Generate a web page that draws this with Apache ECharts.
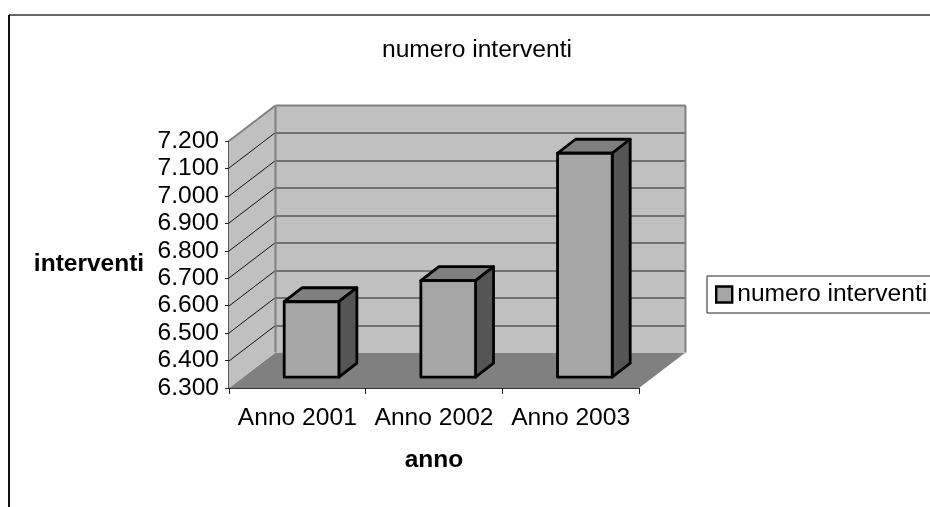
<!DOCTYPE html>
<html><head><meta charset="utf-8">
<style>html,body{margin:0;padding:0;background:#fff;overflow:hidden}#c{width:930px;height:507px}</style>
<script src="https://cdn.jsdelivr.net/npm/echarts@6/dist/echarts.min.js"></script>
</head><body><div id="c"></div>
<script>
var categories = ['Anno 2001', 'Anno 2002', 'Anno 2003'];
var interventi = [6575, 6652, 7116];
var yTicks = [6300, 6400, 6500, 6600, 6700, 6800, 6900, 7000, 7100, 7200];
var seriesName = 'numero interventi';
var FONT = '"Liberation Sans", Arial, sans-serif';
var DEPTH_X = 46.5, DEPTH_Y = 35.5;
var chart = echarts.init(document.getElementById('c'), null, {renderer: 'canvas'});

function poly(points, fill, stroke, lw) {
  return {type: 'polygon', shape: {points: points},
    style: {fill: fill, stroke: stroke || null, lineWidth: lw || 0, lineJoin: 'round'}};
}
function seg(x1, y1, x2, y2, color, lw) {
  return {type: 'line', shape: {x1: x1, y1: y1, x2: x2, y2: y2}, style: {stroke: color, lineWidth: lw}};
}
function renderWalls(params, api) {
  var cs = params.coordSys;
  var L = cs.x, R = cs.x + cs.width, T = cs.y, B = cs.y + cs.height;
  var dx = DEPTH_X, dy = DEPTH_Y, kids = [];
  kids.push(poly([[L, B], [R, B], [R + dx, B - dy], [L + dx, B - dy]], '#808080'));
  kids.push(poly([[L, T], [L + dx, T - dy], [L + dx, B - dy], [L, B]], '#c0c0c0'));
  kids.push(poly([[L + dx, T - dy], [R + dx, T - dy], [R + dx, B - dy], [L + dx, B - dy]], '#c0c0c0'));
  yTicks.slice(1, -1).forEach(function (v) {
    var y = Math.round(api.coord([0, v])[1]);
    kids.push(seg(L, y, L + dx, y - dy, '#111', 1));
    kids.push(seg(L + dx, y - dy + 0.5, R + dx, y - dy + 0.5, '#222', 1));
  });
  kids.push(seg(L, T, L + dx, T - dy, '#808080', 2));
  kids.push(seg(L + dx, T - dy, R + dx, T - dy, '#808080', 2));
  kids.push(seg(L + dx, T - dy, L + dx, B - dy, '#808080', 2));
  kids.push(seg(R + dx, T - dy, R + dx, B - dy, '#808080', 2));
  return {type: 'group', children: kids};
}
function renderBar(params, api) {
  var top = api.coord([api.value(0), api.value(1)]);
  var base = api.coord([api.value(0), yTicks[0]]);
  var band = api.size([1, 0])[0];
  var w = band * 0.4, ox = 14.2, oy = 10.8, dx = 18, dy = 14;
  var x0 = top[0] + ox - w / 2, x1 = x0 + w, yt = top[1] - oy, yb = base[1] - oy;
  var bw = 2.8;
  return {type: 'group', children: [
    poly([[x0, yt], [x1, yt], [x1 + dx, yt - dy], [x0 + dx, yt - dy]], '#7f7f7f', '#000', bw),
    poly([[x1, yt], [x1 + dx, yt - dy], [x1 + dx, yb - dy], [x1, yb]], '#555555', '#000', bw),
    poly([[x0, yt], [x1, yt], [x1, yb], [x0, yb]], '#a6a6a6', '#000', bw)
  ]};
}
chart.setOption({
  animation: false,
  backgroundColor: '#fff',
  title: {text: seriesName, left: 382, top: 38, padding: 0,
    textStyle: {fontFamily: FONT, fontSize: 24.6, fontWeight: 'normal', color: '#000'}},
  legend: {
    left: 707, top: 276, orient: 'horizontal', padding: [6, 20, 6, 8], itemGap: 0,
    itemWidth: 16, itemHeight: 16, itemStyle: {color: '#a6a6a6', borderColor: '#000', borderWidth: 2.4},
    borderColor: '#222', borderWidth: 1, backgroundColor: '#fff', icon: 'rect',
    selectedMode: false,
    textStyle: {fontFamily: FONT, fontSize: 24.6, color: '#000', padding: [2, 0, 0, 0]},
    data: [{name: seriesName, icon: 'rect'}]
  },
  grid: {left: 229, top: 141, width: 410, height: 247, containLabel: false},
  xAxis: {
    type: 'category', data: categories, boundaryGap: true,
    name: 'anno', nameLocation: 'middle', nameGap: 60,
    nameTextStyle: {fontFamily: FONT, fontSize: 24.5, fontWeight: 'bold', color: '#000'},
    axisLine: {show: true, lineStyle: {color: '#333', width: 1}},
    axisTick: {show: true, length: 6, alignWithLabel: false, lineStyle: {color: '#222', width: 1}},
    axisLabel: {margin: 18, fontFamily: FONT, fontSize: 24.6, color: '#000', interval: 0},
    splitLine: {show: false}
  },
  yAxis: {
    type: 'value', min: 6300, max: 7200, interval: 100,
    name: 'interventi', nameLocation: 'middle', nameRotate: 0, nameGap: 140,
    nameTextStyle: {fontFamily: FONT, fontSize: 24.5, fontWeight: 'bold', color: '#000', align: 'center'},
    axisLine: {show: true, onZero: false, lineStyle: {color: '#222', width: 1.5}},
    axisTick: {show: true, length: 4, lineStyle: {color: '#222', width: 1}},
    axisLabel: {margin: 10, fontFamily: FONT, fontSize: 24.6, color: '#000',
      formatter: function (v) { return (v / 1000).toFixed(3); }},
    splitLine: {show: false}
  },
  series: [
    {type: 'custom', name: 'walls', silent: true, z: 1, renderItem: renderWalls,
      data: [[0, yTicks[0]]], encode: {x: 0, y: 1}, clip: false},
    {type: 'custom', name: seriesName, z: 3, renderItem: renderBar,
      itemStyle: {color: '#a6a6a6'}, clip: false,
      data: interventi.map(function (v, i) { return [i, v]; }), encode: {x: 0, y: 1}}
  ],
  graphic: [
    {type: 'line', z: 10, shape: {x1: 9, y1: 15, x2: 930, y2: 15}, style: {stroke: '#333', lineWidth: 1.5}},
    {type: 'line', z: 10, shape: {x1: 9, y1: 15, x2: 9, y2: 507}, style: {stroke: '#111', lineWidth: 2}}
  ]
});
</script></body></html>
